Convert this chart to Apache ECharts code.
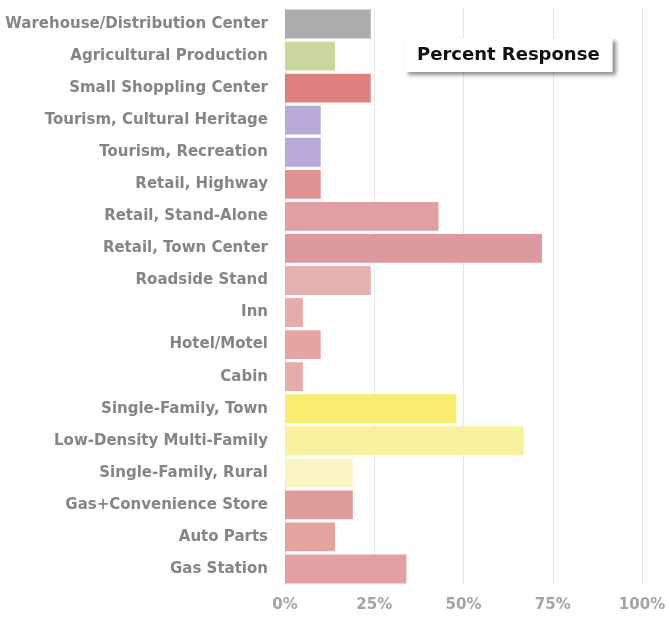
<!DOCTYPE html>
<html><head><meta charset="utf-8">
<script src="https://cdn.jsdelivr.net/npm/echarts@6/dist/echarts.min.js"></script>
<style>html,body{margin:0;padding:0;background:#fff}#c{width:669px;height:621px}</style>
</head><body><div id="c"></div>
<script>
const categories = ["Warehouse/Distribution Center","Agricultural Production","Small Shoppling Center","Tourism, Cultural Heritage","Tourism, Recreation","Retail, Highway","Retail, Stand-Alone","Retail, Town Center","Roadside Stand","Inn","Hotel/Motel","Cabin","Single-Family, Town","Low-Density Multi-Family","Single-Family, Rural","Gas+Convenience Store","Auto Parts","Gas Station"];
const values = [24,14,24,10,10,10,43,72,24,5,10,5,48,67,19,19,14,34];
const barColors = ["#acacac","#c9d79c","#df7f7f","#b8a9d9","#b8a9d9","#e09292","#e0a0a3","#dc9a9e","#e4b0b0","#e6acac","#e5a4a4","#e6acac","#f8ed70","#f7f1a0","#faf5c4","#e09c9c","#e4a2a2","#e2a0a2"];
const xTicks = [0,25,50,75,100];

const chart = echarts.init(document.getElementById('c'));
chart.setOption({
  animation:false,
  title:{
    text:'Percent Response', left:405, top:38,
    padding:[8,13,8,12],
    backgroundColor:'#fff',
    shadowColor:'rgba(0,0,0,0.45)', shadowBlur:4, shadowOffsetX:3, shadowOffsetY:3,
    textStyle:{fontFamily:'DejaVu Sans', fontWeight:'bold', fontSize:18, color:'#111'}
  },
  grid:{left:285, right:27, top:8, bottom:36, containLabel:false},
  xAxis:{type:'value', min:0, max:100, interval:25,
    axisLine:{show:false}, axisTick:{show:false},
    splitLine:{lineStyle:{color:'#e6e6e6', width:1}},
    axisLabel:{formatter:v=>v+'%', color:'#a4a4a4', fontFamily:'DejaVu Sans', fontWeight:'bold', fontSize:15, margin:13}
  },
  yAxis:{type:'category', data:categories, inverse:true,
    axisLine:{show:false}, axisTick:{show:false},
    axisLabel:{color:'#858585', fontFamily:'DejaVu Sans', fontWeight:'bold', fontSize:15, margin:17}
  },
  series:[{type:'bar', data:values.map((v,i)=>({value:v, itemStyle:{color:barColors[i]}})), barCategoryGap:'10%'}]
});
</script></body></html>
